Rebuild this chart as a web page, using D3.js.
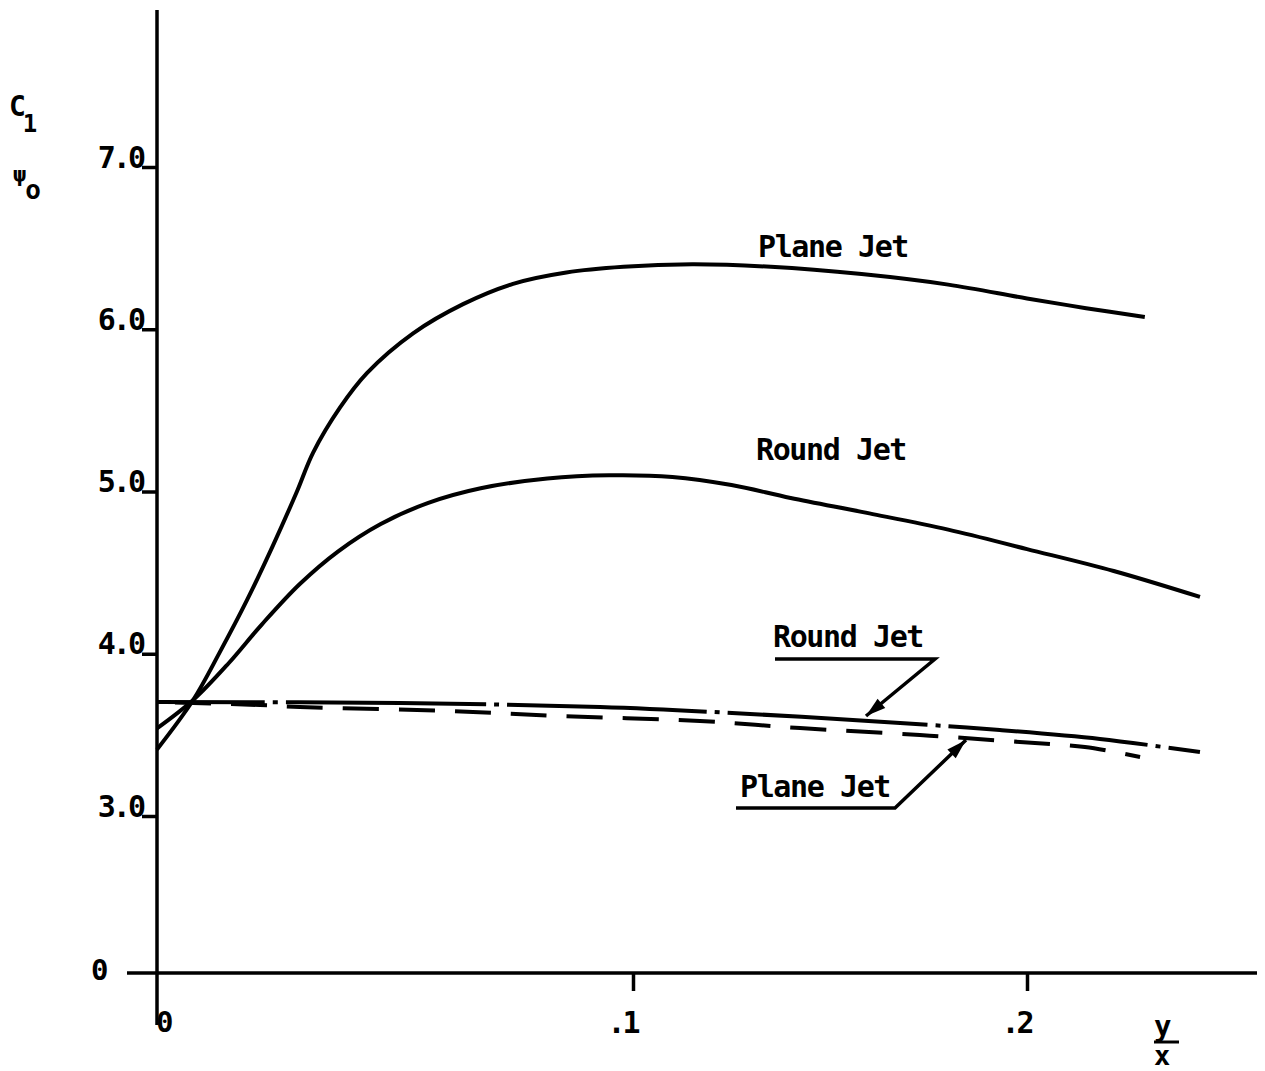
<!DOCTYPE html>
<html>
<head>
<meta charset="utf-8">
<script src="https://cdn.jsdelivr.net/npm/d3@7"></script>
<style>
  body { margin: 0; background: #fff; }
  text { font-family: "DejaVu Sans Mono", monospace; fill: #000; font-weight: bold; }
</style>
</head>
<body>
<svg id="chart" width="1265" height="1071"></svg>
<script>
// tick values
var xTicks = [0.1, 0.2];
var xTickLabels = [".1", ".2"];
var yTicks = [3, 4, 5, 6, 7];

// C1/psi0 against y/x
var planeJet = [[0, 3.41], [0.0076, 3.715], [0.0132, 4.01], [0.0189, 4.33], [0.0244, 4.67],
  [0.0294, 5.0], [0.0328, 5.24], [0.0385, 5.52], [0.0441, 5.73], [0.0538, 5.975],
  [0.0643, 6.155], [0.0748, 6.28], [0.0860, 6.35], [0.098, 6.385], [0.115, 6.40],
  [0.135, 6.385], [0.158, 6.34], [0.180, 6.275], [0.200, 6.19], [0.215, 6.13], [0.2299, 6.075]];

var roundJet = [[0, 3.54], [0.0076, 3.715], [0.015, 3.94], [0.022, 4.18], [0.030, 4.43],
  [0.038, 4.63], [0.047, 4.80], [0.057, 4.93], [0.068, 5.02], [0.082, 5.08],
  [0.095, 5.10], [0.110, 5.09], [0.125, 5.04], [0.140, 4.96], [0.160, 4.865],
  [0.180, 4.765], [0.200, 4.645], [0.222, 4.51], [0.2439, 4.35]];

// asymptotic curves
var roundJetAsym = [[0, 3.703], [0.0511, 3.696], [0.0931, 3.672], [0.1297, 3.629], [0.1678, 3.573],
  [0.1931, 3.53], [0.2185, 3.475], [0.2439, 3.394]];

var planeJetAsym = [[0, 3.703], [0.0216, 3.684], [0.030, 3.672], [0.0616, 3.647], [0.0847, 3.616],
  [0.117, 3.586], [0.1424, 3.542], [0.1728, 3.499], [0.1982, 3.456], [0.2147, 3.425], [0.2287, 3.364]];

var svg = d3.select("#chart");

// the hand-drawn x axis is not evenly spaced
var x = d3.scaleLinear().domain([0, 0.1, 0.2]).range([157, 633, 1027]);
var y = d3.scaleLinear().domain([3, 7]).range([816, 167]);
var zeroY = 973; // broken axis, 0 sits well below 3.0

var line = d3.line()
  .x(d => x(d[0]))
  .y(d => y(d[1]))
  .curve(d3.curveCatmullRom.alpha(0.5));

// axis lines
svg.append("line")
  .attr("x1", x(0)).attr("x2", x(0))
  .attr("y1", 10).attr("y2", 1025)
  .attr("stroke", "#000").attr("stroke-width", 3.5);

svg.append("line")
  .attr("x1", 127).attr("x2", 1257)
  .attr("y1", zeroY).attr("y2", zeroY)
  .attr("stroke", "#000").attr("stroke-width", 3.5);

// y ticks
var yAxis = svg.append("g")
  .attr("transform", `translate(${x(0)},0)`)
  .call(d3.axisLeft(y).tickValues(yTicks).tickSize(15).tickFormat(d3.format(".1f")));

yAxis.select(".domain").remove();
yAxis.selectAll(".tick line").attr("stroke", "#000").attr("stroke-width", 3.5);
yAxis.selectAll(".tick text")
  .attr("x", -14).attr("dy", 0)
  .style("font-size", "30px")
  .style("letter-spacing", "-3px")
  .style("font-family", "DejaVu Sans Mono")
  .style("font-weight", "bold");

// x ticks
var xAxis = svg.append("g")
  .attr("transform", `translate(0,${zeroY})`)
  .call(d3.axisBottom(x).tickValues(xTicks).tickSize(18).tickFormat((d, i) => xTickLabels[i]));

xAxis.select(".domain").remove();
xAxis.selectAll(".tick line").attr("stroke", "#000").attr("stroke-width", 3.5);
xAxis.selectAll(".tick text")
  .attr("y", 60).attr("dy", 0)
  .attr("text-anchor", "end").attr("dx", 4)
  .style("font-size", "30px")
  .style("letter-spacing", "-3px")
  .style("font-family", "DejaVu Sans Mono")
  .style("font-weight", "bold");

// zero labels
svg.append("text").attr("x", 91).attr("y", 980).style("font-size", "29px").text("0");
svg.append("text").attr("x", 156).attr("y", 1032).style("font-size", "29px").text("0");

// y/x label
svg.append("text").attr("x", 1154).attr("y", 1036).style("font-size", "29px").text("y");
svg.append("line").attr("x1", 1154).attr("x2", 1179).attr("y1", 1042).attr("y2", 1042)
  .attr("stroke", "#000").attr("stroke-width", 3);
svg.append("text").attr("x", 1154).attr("y", 1065).style("font-size", "27px").text("x");

// C1 / psi0 label
var yl1 = svg.append("text").attr("x", 9).attr("y", 116).style("font-size", "28px");
yl1.append("tspan").text("C");
yl1.append("tspan").attr("dy", 16).attr("dx", -3).style("font-size", "24px").text("1");
var yl2 = svg.append("text").attr("x", 13).attr("y", 182).style("font-size", "22px");
yl2.append("tspan").text("ψ");
yl2.append("tspan").attr("dy", 17).attr("dx", -1).style("font-size", "26px").text("o");

// curves
svg.append("path").datum(planeJet)
  .attr("d", line).attr("fill", "none").attr("stroke", "#000").attr("stroke-width", 4);

svg.append("path").datum(roundJet)
  .attr("d", line).attr("fill", "none").attr("stroke", "#000").attr("stroke-width", 4);

svg.append("path").datum(planeJetAsym)
  .attr("d", line).attr("fill", "none").attr("stroke", "#000").attr("stroke-width", 4)
  .attr("stroke-dasharray", "36,20").attr("stroke-dashoffset", -130);

svg.append("path").datum(roundJetAsym)
  .attr("d", line).attr("fill", "none").attr("stroke", "#000").attr("stroke-width", 4)
  .attr("stroke-dasharray", "200,8,5,8").attr("stroke-dashoffset", 92);

// curve labels
function label(tx, ty, s) {
  svg.append("text").attr("x", tx).attr("y", ty)
    .style("font-size", "30px").style("letter-spacing", "-1.4px").text(s);
}
label(758, 257, "Plane Jet");
label(756, 460, "Round Jet");
label(773, 647, "Round Jet");
label(740, 797, "Plane Jet");

// leader lines with arrowheads
function leader(pts) {
  svg.append("path")
    .attr("d", d3.line()(pts))
    .attr("fill", "none").attr("stroke", "#000").attr("stroke-width", 3.5);
  var tip = pts[pts.length - 1], from = pts[pts.length - 2];
  var dx = tip[0] - from[0], dy = tip[1] - from[1];
  var len = Math.sqrt(dx * dx + dy * dy);
  var ux = dx / len, uy = dy / len;
  var bx = tip[0] - ux * 20, by = tip[1] - uy * 20;
  svg.append("path")
    .attr("d", d3.line()([[tip[0], tip[1]], [bx - uy * 6, by + ux * 6], [bx + uy * 6, by - ux * 6]]) + "Z")
    .attr("fill", "#000");
}

leader([[775, 659], [935, 659], [866, 716]]);
leader([[736, 808], [895, 808], [966, 740]]);
</script>
</body>
</html>
